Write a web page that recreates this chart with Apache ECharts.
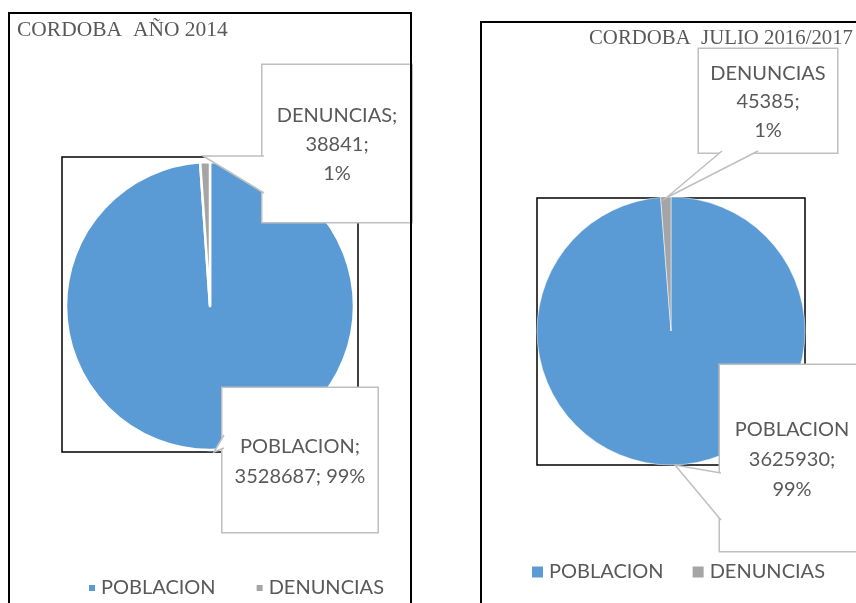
<!DOCTYPE html>
<html>
<head>
	<title>cordoba</title>
	<meta charset="utf-8">
	<style>
		html, body, #chart {
			margin: 0;
			padding: 0;
			width: 856px;
			height: 603px;
			background: #fff;
		}
	</style>
	<script src="https://cdn.jsdelivr.net/npm/echarts@6/dist/echarts.min.js"></script>
</head>
<body>

<div id="chart"></div>

<script>

var categories = ['POBLACION', 'DENUNCIAS'];
var values2014 = [3528687, 38841];
var values2017 = [3625930, 45385];
var titles = ['CORDOBA  AÑO 2014', 'CORDOBA  JULIO 2016/2017'];

var colors = ['#5b9bd5', '#a5a5a5'];
var textColor = '#595959';
var calloutColor = '#bfbfbf';
var sans = 'Lato';

// callout boxes: [centerX, top, width, padding]
var boxes2014 = [
	[300, 388, 155, [44, 0, 40, 0]],
	[337, 65, 149, [36, 0, 34, 0]]
];
var boxes2017 = [
	[792, 365, 144, [50, 0, 46, 0]],
	[768, 49, 138, [10, 0, 8, 0]]
];

// pointer wedges of the callouts (base, tip, base)
var pointers = [
	[[264, 156], [203, 156], [264, 193]],
	[[224, 435], [214, 452], [224, 448]],
	[[722, 151], [666, 198], [758, 151]],
	[[721, 473], [675, 465], [721, 520]]
];

function pct (p) {
	return Math.round(p.percent) + '%';
}

function buildData (values, boxes, lineHeight) {
	return categories.map(function (name, i) {
		return {
			name: name,
			value: values[i],
			label: {
				width: boxes[i][2],
				padding: boxes[i][3],
				lineHeight: lineHeight[i]
			}
		};
	});
}

var baseLabel = {
	show: true,
	position: 'outside',
	color: textColor,
	fontFamily: sans,
	fontSize: 20,
	align: 'center',
	backgroundColor: '#fff',
	borderColor: calloutColor,
	borderWidth: 1.5
};

var graphics = [
	{ type: 'rect', z: 0, shape: { x: 62, y: 157, width: 296, height: 295 }, style: { fill: 'none', stroke: '#000', lineWidth: 1.5 } },
	{ type: 'rect', z: 0, shape: { x: 537, y: 198, width: 268, height: 267 }, style: { fill: 'none', stroke: '#000', lineWidth: 1.5 } },
	{ type: 'rect', z: 100, shape: { x: 9, y: 13, width: 402, height: 640 }, style: { fill: 'none', stroke: '#000', lineWidth: 2 } },
	{ type: 'rect', z: 100, shape: { x: 481, y: 22, width: 420, height: 640 }, style: { fill: 'none', stroke: '#000', lineWidth: 2 } }
];
pointers.forEach(function (pts) {
	graphics.push({
		type: 'polyline',
		z: 50,
		shape: { points: pts },
		style: { fill: '#fff', stroke: calloutColor, lineWidth: 1.5 }
	});
});

function titleStyle (size) {
	return { fontFamily: 'Liberation Serif', fontSize: size, fontWeight: 'normal', color: textColor };
}
var legendText = { color: textColor, fontFamily: sans, fontSize: 20 };

var chart = echarts.init(document.getElementById('chart'));

chart.setOption({
	animation: false,
	color: colors,
	title: [
		{ text: titles[0], left: 17, top: 19, padding: 0, textStyle: titleStyle(21.5) },
		{ text: titles[1], left: 589, top: 28, padding: 0, textStyle: titleStyle(20.8) }
	],
	legend: [
		{
			left: 87,
			top: 578,
			padding: 0,
			icon: 'rect',
			itemWidth: 8,
			itemHeight: 8,
			itemGap: 39,
			data: categories,
			textStyle: legendText
		},
		{
			left: 530,
			top: 562,
			padding: 0,
			icon: 'rect',
			itemWidth: 13,
			itemHeight: 13,
			itemGap: 27,
			data: categories,
			textStyle: legendText
		}
	],
	graphic: graphics,
	series: [
		{
			type: 'pie',
			center: [210, 306],
			radius: 144,
			startAngle: 90,
			avoidLabelOverlap: false,
			itemStyle: { borderColor: '#fff', borderWidth: 2.5 },
			label: Object.assign({}, baseLabel, {
				formatter: function (p) {
					if (p.dataIndex === 0) {
						return p.name + ';\n' + p.value + '; ' + pct(p);
					}
					return p.name + ';\n' + p.value + ';\n' + pct(p);
				}
			}),
			labelLine: { show: false },
			labelLayout: function (params) {
				var b = boxes2014[params.dataIndex];
				return { x: b[0], y: b[1], align: 'center', verticalAlign: 'top' };
			},
			emphasis: { disabled: true },
			data: buildData(values2014, boxes2014, [30, 29])
		},
		{
			type: 'pie',
			center: [671, 331],
			radius: 134,
			startAngle: 90,
			avoidLabelOverlap: false,
			itemStyle: { borderColor: '#fff', borderWidth: 0.5 },
			label: Object.assign({}, baseLabel, {
				formatter: function (p) {
					return p.name + '\n' + p.value + ';\n' + pct(p);
				}
			}),
			labelLine: { show: false },
			labelLayout: function (params) {
				var b = boxes2017[params.dataIndex];
				return { x: b[0], y: b[1], align: 'center', verticalAlign: 'top' };
			},
			emphasis: { disabled: true },
			data: buildData(values2017, boxes2017, [30, 28.5])
		}
	]
});

</script>
</body>
</html>
